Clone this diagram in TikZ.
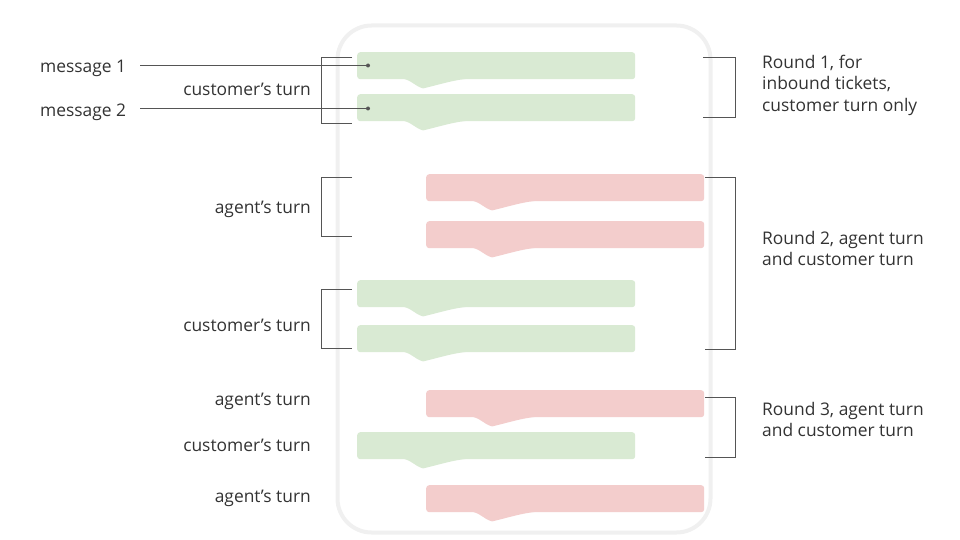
\documentclass[tikz,border=0pt]{standalone}
\usepackage{fontspec}
\setmainfont{Open Sans}
\definecolor{cgreen}{HTML}{D9EAD3}
\definecolor{cred}{HTML}{F3CDCC}
\definecolor{txt}{HTML}{333333}
\definecolor{ln}{HTML}{555555}
\definecolor{frame}{HTML}{F0F0F0}
\tikzset{
 lbl/.style={font=\fontsize{17.4}{21.5}\selectfont, text=txt, inner sep=0pt},
 llbl/.style={lbl, anchor=east},
 rlbl/.style={lbl, anchor=west, align=left},
 bub/.style={rectangle, rounded corners=3pt, minimum width=278pt, minimum height=27pt, inner sep=0pt, anchor=north west},
 brk/.style={draw=ln, line width=0.8pt},
 dotn/.style={circle, fill=ln, inner sep=0pt, minimum size=4pt},
}
\newcommand\bubble[4]{%
 \node[bub, fill=#4] (#1) at (#2,#3) {};
 \fill[#4] ([xshift=44pt,yshift=1pt]#1.south west) .. controls +(10pt,-1pt) and +(-8pt,2pt) .. ([xshift=66pt,yshift=-9pt]#1.south west) .. controls +(14pt,3pt) and +(-18pt,0pt) .. ([xshift=118pt,yshift=1pt]#1.south west) -- cycle;
}
\begin{document}
\begin{tikzpicture}[x=1pt,y=-1pt]
\useasboundingbox (0,0) rectangle (960,540);
% phone frame
\node[draw=frame, line width=4pt, fill=white, rounded corners=34pt, minimum width=373pt, minimum height=507pt, inner sep=0pt] (phone) at (524,279) {};
% bubbles
\bubble{b1}{357}{52}{cgreen}
\bubble{b2}{357}{94}{cgreen}
\bubble{b3}{426}{174}{cred}
\bubble{b4}{426}{221}{cred}
\bubble{b5}{357}{280}{cgreen}
\bubble{b6}{357}{325}{cgreen}
\bubble{b7}{426}{390}{cred}
\bubble{b8}{357}{432}{cgreen}
\bubble{b9}{426}{485}{cred}
% message pointers
\node[dotn] (d1) at (368,65.5) {};
\node[dotn] (d2) at (368,108.5) {};
\node[lbl, anchor=west] (m1) at (40,68) {message 1};
\node[lbl, anchor=west] (m2) at (40,112) {message 2};
\draw[brk] (140,0 |- d1) -- (d1);
\draw[brk] (140,0 |- d2) -- (d2);
% left labels
\node[llbl] (l1) at (311,89) {customer’s turn};
\node[llbl] (l2) at (311,209) {agent’s turn};
\node[llbl] (l3) at (311,325) {customer’s turn};
\node[llbl] (l4) at (311,401) {agent’s turn};
\node[llbl] (l5) at (311,445) {customer’s turn};
\node[llbl] (l6) at (311,498) {agent’s turn};
% left brackets
\draw[brk] (352,57) -- (321,57) -- (321,123) -- (352,123);
\draw[brk] (352,177) -- (321,177) -- (321,236) -- (352,236);
\draw[brk] (352,289) -- (321,289) -- (321,348) -- (352,348);
% right brackets
\draw[brk] (703,57) -- (735,57) -- (735,117) -- (703,117);
\draw[brk] (705,177) -- (735,177) -- (735,349) -- (705,349);
\draw[brk] (705,397) -- (735,397) -- (735,457) -- (705,457);
% right labels
\node[rlbl] (r1) at (762,85) {Round 1, for\\inbound tickets,\\customer turn only};
\node[rlbl] (r2) at (762,248.5) {Round 2, agent turn\\and customer turn};
\node[rlbl] (r3) at (762,419.5) {Round 3, agent turn\\and customer turn};
\end{tikzpicture}
\end{document}
